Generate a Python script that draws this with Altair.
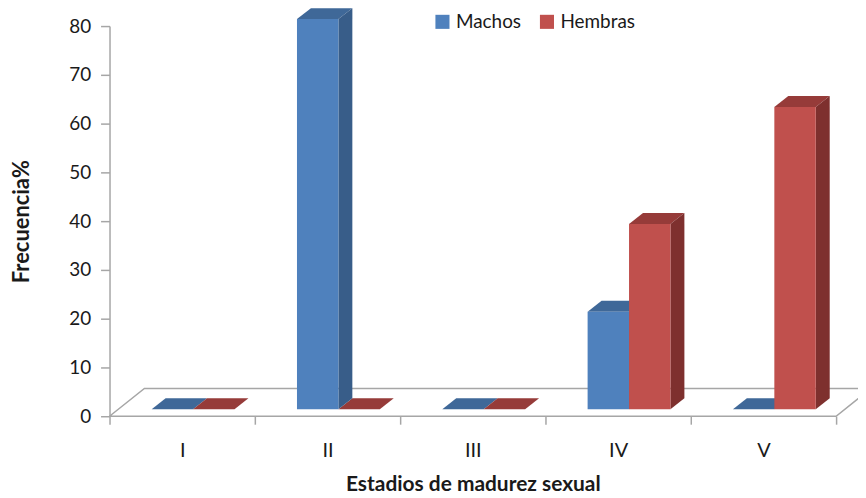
import json
import altair as alt
import pandas as pd

# ---- data ----
stages = ["I", "II", "III", "IV", "V"]
series = ["Machos", "Hembras"]
machos = [0, 80, 0, 20, 0]
hembras = [0, 0, 0, 38, 62]
y_ticks = [0, 10, 20, 30, 40, 50, 60, 70, 80]

# ---- styles / layout constants (not data) ----
FRONT = ["#4F81BD", "#C0504D"]
TOP = ["#3F6898", "#963B39"]
SIDE = ["#385D89", "#7E302E"]
FONT = "Lato"
BAR_START = 0.29   # fraction of a category before the first bar
BAR_W = 0.285      # bar width as fraction of a category
DX = 0.096         # 3-D depth, x (category units)
DY = 2.25          # 3-D depth, y (value units)
FLOOR_DX = 0.24
FLOOR_DY = 5.7
BAR_SHIFT = -7     # bars stand a bit behind the front plane (pixels)

values = {"Machos": machos, "Hembras": hembras}
n = len(stages)

front_rows, side_rows, top_rows = [], [], []
for si, s in enumerate(series):
    for i, st in enumerate(stages):
        v = values[s][i]
        xl = i + BAR_START + si * BAR_W
        xr = xl + BAR_W
        bar = f"{s}-{st}"
        front_rows.append(dict(series=s, stage=st, x=xl, x2=xr, y=v, y2=0))
        side_rows += [
            dict(series=s, bar=bar, x=xr, y=v, y2=0),
            dict(series=s, bar=bar, x=xr + DX, y=v + DY, y2=DY),
        ]
        top_rows += [
            dict(series=s, bar=bar, x=xl, y=v, y2=v),
            dict(series=s, bar=bar, x=xl + DX, y=v + DY, y2=v),
            dict(series=s, bar=bar, x=xr, y=v + DY, y2=v),
            dict(series=s, bar=bar, x=xr + DX, y=v + DY, y2=v + DY),
        ]

floor_rows = [
    dict(x=0, y=0, y2=0),
    dict(x=FLOOR_DX, y=FLOOR_DY, y2=0),
    dict(x=n, y=FLOOR_DY, y2=0),
    dict(x=n + FLOOR_DX, y=FLOOR_DY, y2=FLOOR_DY),
]

front_df = pd.DataFrame(front_rows)
side_df = pd.DataFrame(side_rows)
top_df = pd.DataFrame(top_rows)
floor_df = pd.DataFrame(floor_rows)

x_vals = [k / 2 for k in range(0, 2 * n + 1)]
label_expr = (
    "datum.value % 1 != 0 ? " + json.dumps(stages) + "[floor(datum.value)] : ''"
)

X_AXIS = alt.Axis(
    title="Estadios de madurez sexual",
    values=x_vals,
    labelExpr=label_expr,
    domain=False,
    grid=False,
    tickSize=8,
    tickColor="#A6A6A6",
    tickWidth=1.5,
    tickOpacity={"condition": {"test": "datum.value % 1 != 0", "value": 0}, "value": 1},
    labelFont=FONT,
    labelFontSize=20,
    labelColor="#1a1a1a",
    labelBaseline="alphabetic",
    labelPadding=32,
    labelFlush=False,
    labelOverlap=False,
    titleFont=FONT,
    titleFontSize=21,
    titleFontWeight="bold",
    titleColor="#1a1a1a",
    titleBaseline="middle",
    titleY=69,
)

Y_AXIS = alt.Axis(
    title="Frecuencia%",
    values=y_ticks,
    grid=False,
    domainColor="#A6A6A6",
    domainWidth=1.5,
    tickColor="#A6A6A6",
    tickWidth=1.5,
    tickSize=9,
    labelFont=FONT,
    labelFontSize=19,
    labelColor="#1a1a1a",
    labelPadding=10,
    titleFont=FONT,
    titleFontSize=22,
    titleFontWeight="bold",
    titleColor="#1a1a1a",
    titleAngle=270,
    titleAlign="center",
    titleBaseline="middle",
    titleX=-88,
    titleY=196,
)

x_scale = alt.Scale(domain=[0, n], nice=False, zero=False)
y_scale = alt.Scale(domain=[0, 80], nice=False)

floor = alt.Chart(floor_df).mark_area(
    orient="vertical", fill="white", stroke="#A6A6A6", strokeWidth=1.5, clip=False
).encode(
    x=alt.X("x:Q", scale=x_scale, axis=X_AXIS),
    y=alt.Y("y:Q", scale=y_scale, axis=Y_AXIS),
    y2="y2:Q",
)

tops = alt.Chart(top_df).mark_area(
    orient="vertical", yOffset=BAR_SHIFT, y2Offset=BAR_SHIFT
).encode(
    x=alt.X("x:Q", scale=x_scale, axis=X_AXIS),
    y=alt.Y("y:Q", scale=y_scale, axis=Y_AXIS),
    y2="y2:Q",
    detail="bar:N",
    color=alt.Color("series:N", scale=alt.Scale(domain=series, range=TOP), legend=None),
)

sides = alt.Chart(side_df).mark_area(
    orient="vertical", yOffset=BAR_SHIFT, y2Offset=BAR_SHIFT
).encode(
    x=alt.X("x:Q", scale=x_scale, axis=X_AXIS),
    y=alt.Y("y:Q", scale=y_scale, axis=Y_AXIS),
    y2="y2:Q",
    detail="bar:N",
    color=alt.Color("series:N", scale=alt.Scale(domain=series, range=SIDE), legend=None),
)

fronts = alt.Chart(front_df).mark_rect(
    yOffset=BAR_SHIFT, y2Offset=BAR_SHIFT
).encode(
    x=alt.X("x:Q", scale=x_scale, axis=X_AXIS),
    x2="x2:Q",
    y=alt.Y("y:Q", scale=y_scale, axis=Y_AXIS),
    y2="y2:Q",
    color=alt.Color(
        "series:N",
        scale=alt.Scale(domain=series, range=FRONT),
        legend=alt.Legend(
            title=None,
            orient="none",
            direction="horizontal",
            legendX=325,
            legendY=-14,
            symbolType="square",
            symbolSize=200,
            symbolStrokeWidth=0,
            labelFont=FONT,
            labelFontSize=19,
            labelColor="#1a1a1a",
            labelOffset=4,
            columnPadding=16,
            padding=0,
        ),
    ),
    tooltip=["stage:N", "series:N", "y:Q"],
)

chart = (
    alt.layer(floor, tops, sides, fronts)
    .resolve_scale(color="independent")
    .properties(
        width=730,
        height=392,
        background="white",
        autosize=alt.AutoSizeParams(type="none"),
        padding={"left": 102, "top": 17, "right": 22, "bottom": 80},
    )
    .configure_view(stroke=None)
)

chart.save("out.html", embed_options={"renderer": "svg", "actions": False})
